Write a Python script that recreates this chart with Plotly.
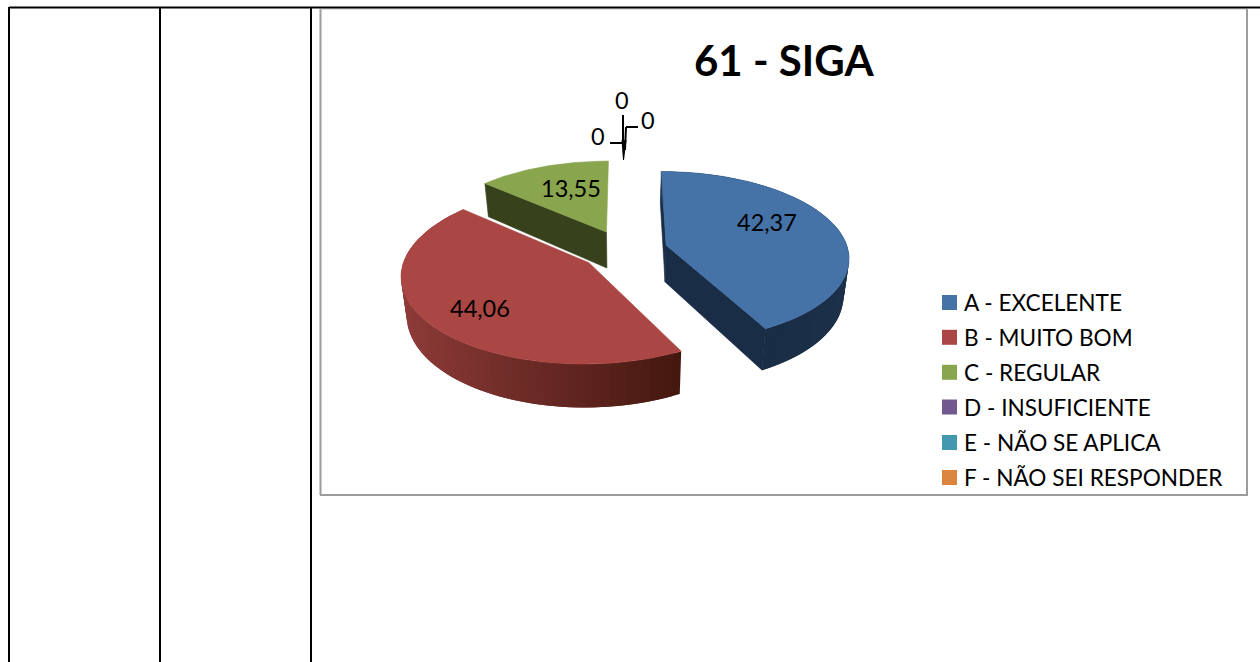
import math
import plotly.graph_objects as go

# ---- data ----
title_text = "61 - SIGA"
categories = ["A - EXCELENTE", "B - MUITO BOM", "C - REGULAR", "D - INSUFICIENTE",
              "E - NÃO SE APLICA", "F - NÃO SEI RESPONDER"]
values = [42.37, 44.06, 13.55, 0, 0, 0]
colors = ["#4572A7", "#AA4643", "#89A54E", "#71588F", "#4198AF", "#DB843D"]

# ---- look ----
FONT = "Lato"
CX, CY = 624, 250      # projected pie centre
RX, RY = 182, 84.5     # radii
PERSP = 0.13           # perspective strength
EXPLODE = 0.24
DEPTH = 37
BOTTOM_SHRINK = 0.975
dark_blue = ("#22384F", "#1A2D47")
dark_red = ("#8E3B39", "#45180F")
dark_green = "#37421C"
label_pos = [(767, 222), (480, 308), (571, 188), (622, 100), (648, 120), (598, 136)]
legend_y = [302.5, 337.3, 372.3, 407, 442.5, 477.5]


def project(X, Y):
    s = 1 / (1 + PERSP * Y)
    return CX + RX * X * s, CY - RY * Y * s, s


def drop(pt):
    x, y, s = pt
    return CX + (x - CX) * BOTTOM_SHRINK, y + DEPTH * s


def wedge_geometry(start, end):
    mid = (start + end) / 2
    ox, oy = EXPLODE * math.sin(mid), EXPLODE * math.cos(mid)
    def at(t):
        return project(ox + math.sin(t), oy + math.cos(t))
    return project(ox, oy), at


def mix(a, b, f):
    pa = [int(a[i:i + 2], 16) for i in (1, 3, 5)]
    pb = [int(b[i:i + 2], 16) for i in (1, 3, 5)]
    return "#%02x%02x%02x" % tuple(round(u + (v - u) * f) for u, v in zip(pa, pb))


fig = go.Figure()


def poly(pts, color, width=0.6):
    fig.add_trace(go.Scatter(
        x=[p[0] for p in pts] + [pts[0][0]], y=[p[1] for p in pts] + [pts[0][1]],
        mode="lines", fill="toself", fillcolor=color,
        line=dict(color=color, width=width), hoverinfo="skip", showlegend=False))


def wall(a_from, a_to, at, colour_at):
    """Shaded outer wall: overlapping strips painted one after another, so no seams show."""
    for k in range(N):
        t0 = a_from + (a_to - a_from) * k / N
        t1 = a_from + (a_to - a_from) * min(N, k + 2) / N
        poly([at(t0)[:2], at(t1)[:2], drop(at(t1)), drop(at(t0))], colour_at(k / N, t0), 0)


total = sum(values)
angles = [0]
for v in values:
    angles.append(angles[-1] + 2 * math.pi * v / total)

N = 70
geo = []
for i in range(3):
    geo.append((angles[i], angles[i + 1]) + wedge_geometry(angles[i], angles[i + 1]))

# green (back)
a0, a1, apex, at = geo[2]
poly([at(a0)[:2], apex[:2], drop(apex), drop(at(a0))], dark_green)
poly([apex[:2]] + [at(a0 + (a1 - a0) * k / N)[:2] for k in range(N + 1)], colors[2])

# red: the wall's shade follows horizontal position, dark at its right end
a0, a1, apex, at = geo[1]
x_right = at(a0)[0]
x_left = min(at(a0 + (a1 - a0) * k / N)[0] for k in range(N + 1))
wall(a0, a1, at, lambda u, t: mix(dark_red[0], dark_red[1],
                                  (at(t)[0] - x_left) / (x_right - x_left)))
poly([apex[:2]] + [at(a0 + (a1 - a0) * k / N)[:2] for k in range(N + 1)], colors[1])

# blue
a0, a1, apex, at = geo[0]
poly([at(a0)[:2], apex[:2], drop(apex), drop(at(a0))], dark_blue[1])
wall(a0, a1, at, lambda u, t: mix(dark_blue[0], dark_blue[1], u))
poly([apex[:2], drop(apex), drop(at(a1)), at(a1)[:2]], dark_blue[1])
poly([apex[:2]] + [at(a0 + (a1 - a0) * k / N)[:2] for k in range(N + 1)], colors[0])

# legend swatches
fig.add_trace(go.Scatter(
    x=[949.5] * len(categories), y=legend_y, mode="markers",
    marker=dict(symbol="square", size=15, color=colors, line=dict(width=0)),
    text=categories, hoverinfo="text", showlegend=False))

annotations = []
for (x, y), v in zip(label_pos, values):
    txt = ("%.2f" % v).replace(".", ",") if v else "0"
    annotations.append(dict(x=x, y=y, text=txt, showarrow=False, xanchor="center", yanchor="middle",
                            font=dict(family=FONT, size=23.5, color="#000000")))
for y, c in zip(legend_y, categories):
    annotations.append(dict(x=962, y=y, text=c, showarrow=False, xanchor="left", yanchor="middle",
                            font=dict(family=FONT, size=22.6, color="#000000")))
annotations.append(dict(x=783.5, y=60, text="<b>%s</b>" % title_text, showarrow=False,
                        xanchor="center", yanchor="middle",
                        font=dict(family=FONT, size=42, color="#000000")))


def seg(x0, y0, x1, y1, color="#000000", width=2):
    return dict(type="line", xref="x", yref="y", x0=x0, y0=y0, x1=x1, y1=y1,
                line=dict(color=color, width=width), layer="above")


shapes = [
    # chart frame
    seg(320.5, 9, 320.5, 495, "#9C9C9C", 2),
    seg(320, 495, 1248, 495, "#9C9C9C", 2),
    seg(1247, 9, 1247, 495, "#9C9C9C", 2),
    seg(320, 9, 1247, 9, "#C8C8C8", 1),
    # table rules
    seg(9, 7.5, 1260, 7.5, "#000000", 2),
    seg(9, 7, 9, 662),
    seg(160, 7, 160, 662),
    seg(311, 7, 311, 662),
    # leader lines of the empty slices
    seg(623, 115, 623, 145),
    seg(638, 127, 626, 127),
    seg(626, 127, 625, 150),
    seg(610, 143, 623, 143),
    dict(type="path", xref="x", yref="y", path="M 621.5 140 L 626.5 140 L 624 160 L 623 160 Z",
         fillcolor="#000000", line=dict(width=0)),
]

fig.update_layout(
    width=1260, height=662, margin=dict(l=0, r=0, t=0, b=0),
    paper_bgcolor="#FFFFFF", plot_bgcolor="#FFFFFF", showlegend=False,
    xaxis=dict(range=[0, 1260], visible=False, fixedrange=True),
    yaxis=dict(range=[662, 0], visible=False, fixedrange=True),
    annotations=annotations, shapes=shapes,
)
fig.write_html("out.html", config=dict(displayModeBar=False),
               post_script="document.body.style.margin='0';")
